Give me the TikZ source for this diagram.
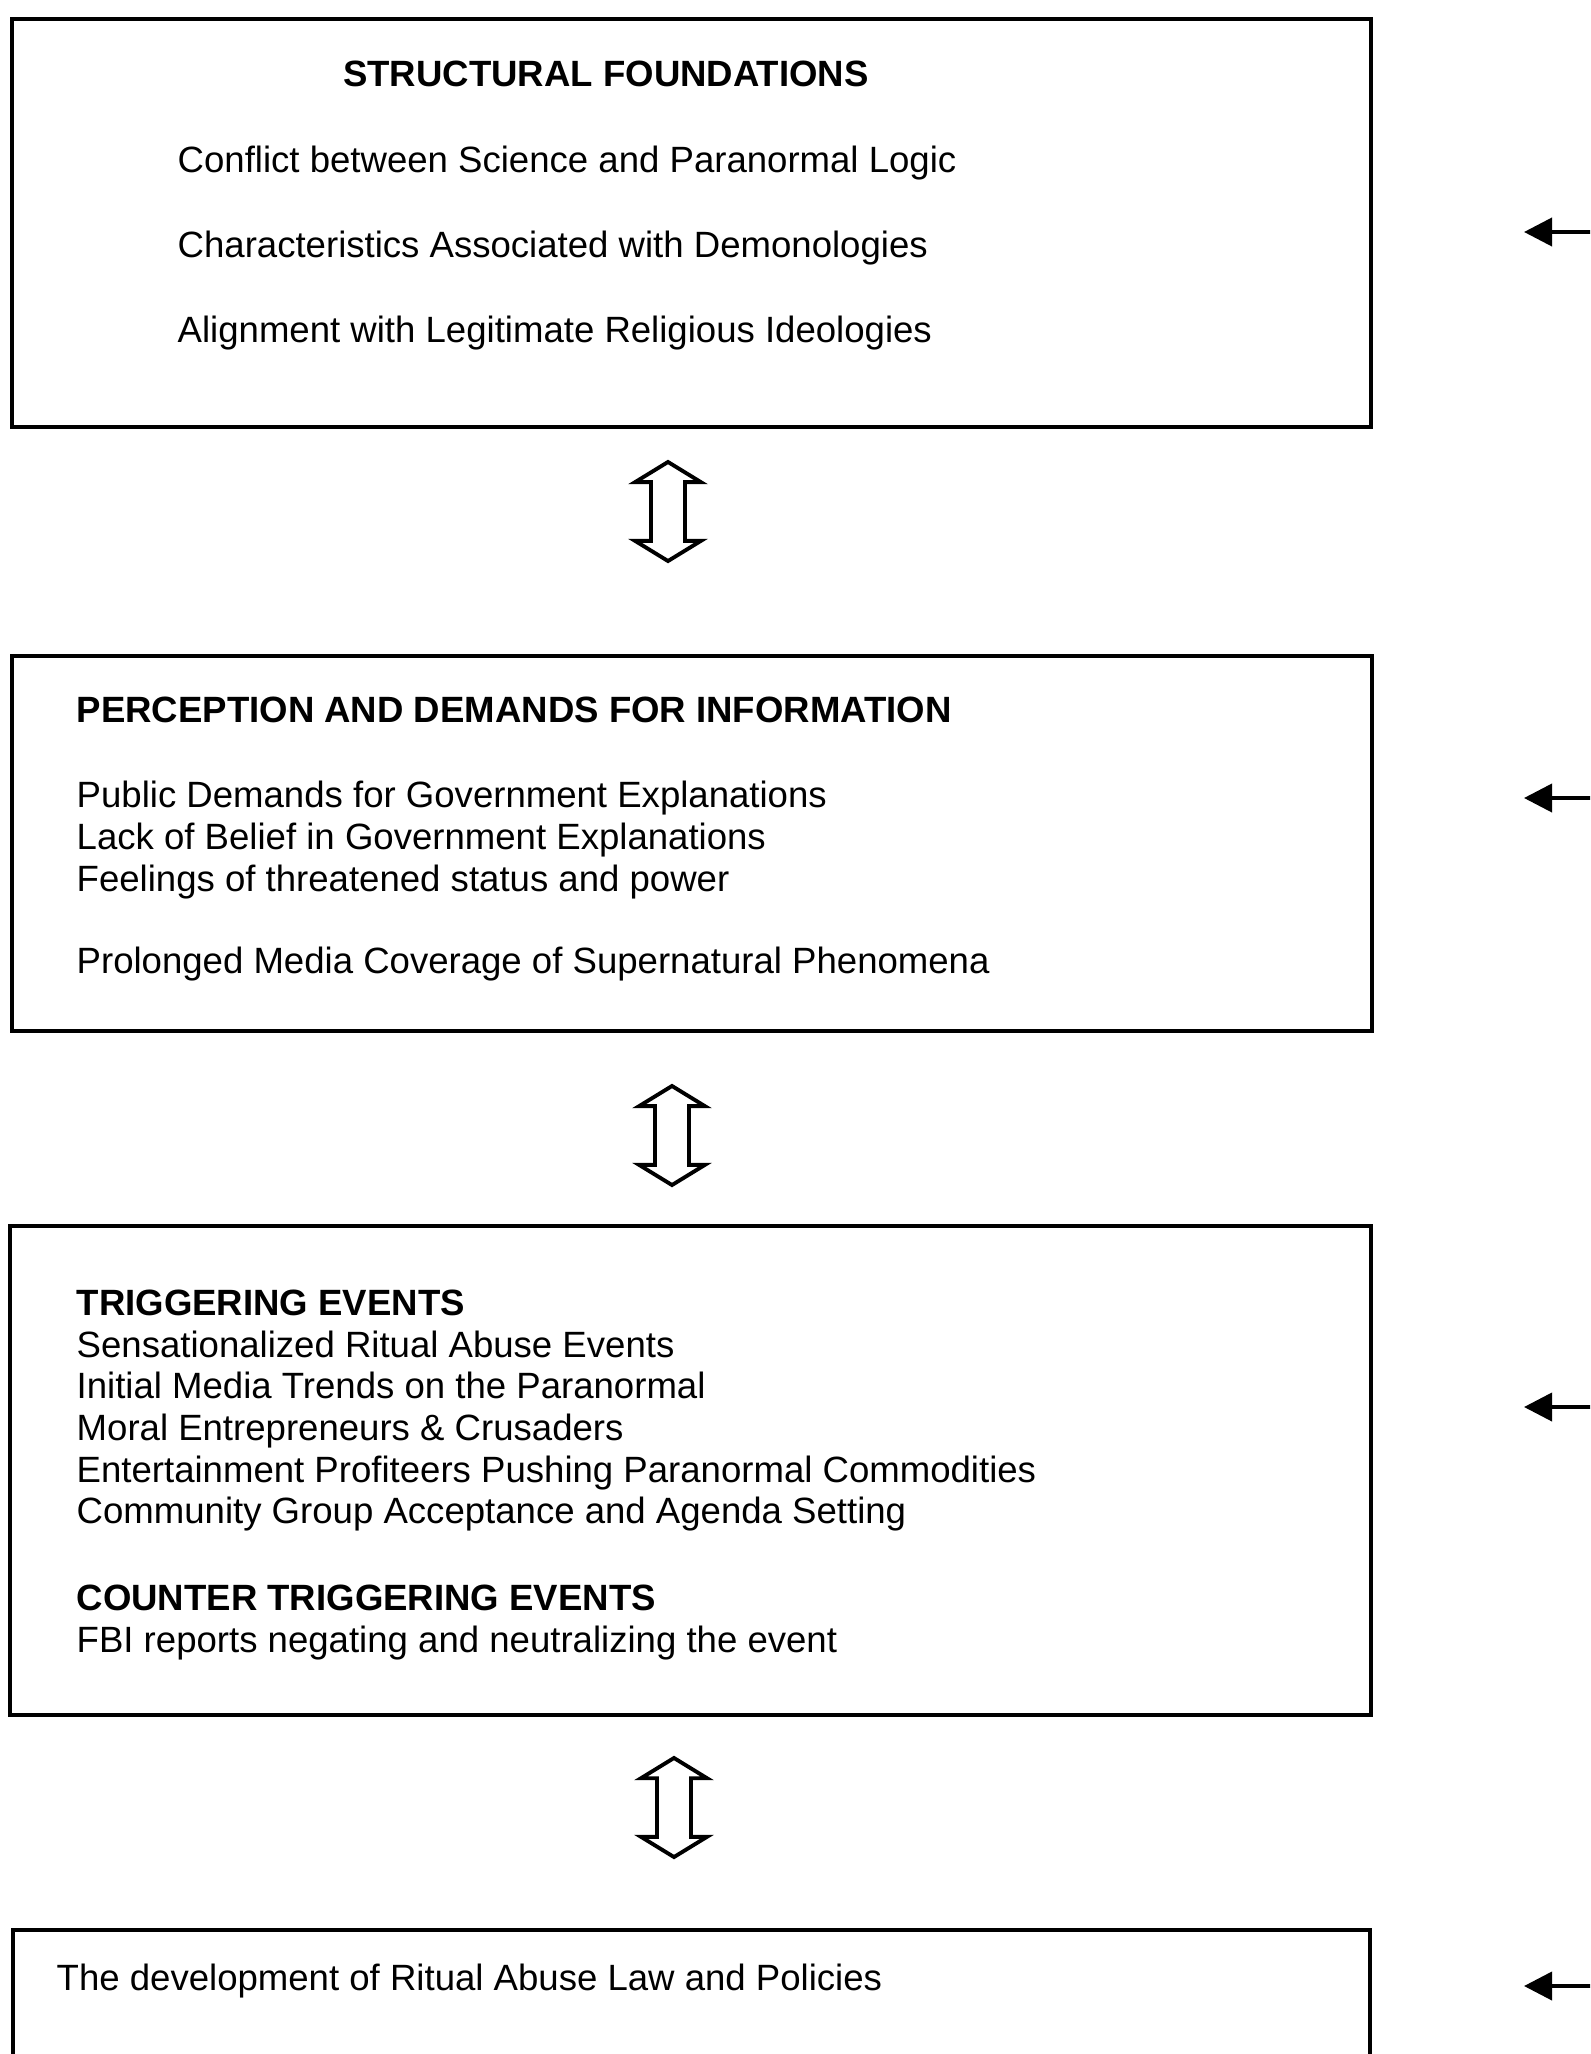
\documentclass[tikz,border=0pt]{standalone}
\usepackage{fontspec}
\setmainfont{Liberation Sans}
\usetikzlibrary{shapes.arrows,arrows.meta}
\tikzset{
  panel/.style={draw, line width=1.1pt, inner sep=0pt},
  txt/.style={anchor=base west, inner sep=0pt},
  updown/.style={double arrow, draw, line width=1.1pt, rotate=90,
    inner xsep=0pt, inner ysep=0.15cm, minimum height=0.99cm,
    double arrow head extend=0.16cm, double arrow tip angle=117},
  feed/.style={line width=1.1pt, -{Triangle[length=0.28cm,width=0.28cm]}}
}
\begin{document}
\begin{tikzpicture}
  [x=0.01cm, y=-0.01cm, every node/.style={font=\fontsize{10.4}{12.5}\selectfont}]
  \clip (0,0) rectangle (1590,2054);
  % boxes
  \node[panel, minimum width=13.59cm, minimum height=4.08cm] (sf) at (691.5,223) {};
  \node[panel, minimum width=13.60cm, minimum height=3.75cm] (pd) at (692,843.5) {};
  \node[panel, minimum width=13.61cm, minimum height=4.89cm] (te) at (690.5,1470.5) {};
  \node[panel, minimum width=13.57cm, minimum height=2.20cm] (law) at (691.5,2040) {};
  % structural foundations
  \node[anchor=base, inner sep=0pt] (sfh) at (606,86) {\textbf{STRUCTURAL FOUNDATIONS}};
  \node[txt] (sf1) at (177,172) {Conflict between Science and Paranormal Logic};
  \node[txt] (sf2) at (177,257) {Characteristics Associated with Demonologies};
  \node[txt] (sf3) at (177,342) {Alignment with Legitimate Religious Ideologies};
  % perception
  \node[txt] (pdh) at (76,722) {\textbf{PERCEPTION AND DEMANDS FOR INFORMATION}};
  \node[txt] (pd1) at (76,807) {Public Demands for Government Explanations};
  \node[txt] (pd2) at (76,849) {Lack of Belief in Government Explanations};
  \node[txt] (pd3) at (76,891) {Feelings of threatened status and power};
  \node[txt] (pd4) at (76,973) {Prolonged Media Coverage of Supernatural Phenomena};
  % triggering events
  \node[txt] (teh) at (76,1315) {\textbf{TRIGGERING EVENTS}};
  \node[txt] (te1) at (76,1357) {Sensationalized Ritual Abuse Events};
  \node[txt] (te2) at (76,1398) {Initial Media Trends on the Paranormal};
  \node[txt] (te3) at (76,1440) {Moral Entrepreneurs \& Crusaders};
  \node[txt] (te4) at (76,1482) {Entertainment Profiteers Pushing Paranormal Commodities};
  \node[txt] (te5) at (76,1523) {Community Group Acceptance and Agenda Setting};
  \node[txt] (cth) at (76,1610) {\textbf{COUNTER TRIGGERING EVENTS}};
  \node[txt] (ct1) at (76,1652) {FBI reports negating and neutralizing the event};
  % law
  \node[txt] (law1) at (56,1990) {The development of Ritual Abuse Law and Policies};
  % double arrows
  \node[updown] (a1) at (668,511.5) {};
  \node[updown] (a2) at (672,1135.5) {};
  \node[updown] (a3) at (674,1807.5) {};
  % side arrows
  \coordinate (in1) at (1600,232);
  \coordinate (in2) at (1600,798);
  \coordinate (in3) at (1600,1407);
  \coordinate (in4) at (1600,1986);
  \coordinate (t1) at (1524,232);
  \coordinate (t2) at (1524,798);
  \coordinate (t3) at (1524,1407);
  \coordinate (t4) at (1524,1986);
  \draw[feed] (in1) -- (t1);
  \draw[feed] (in2) -- (t2);
  \draw[feed] (in3) -- (t3);
  \draw[feed] (in4) -- (t4);
\end{tikzpicture}
\end{document}
